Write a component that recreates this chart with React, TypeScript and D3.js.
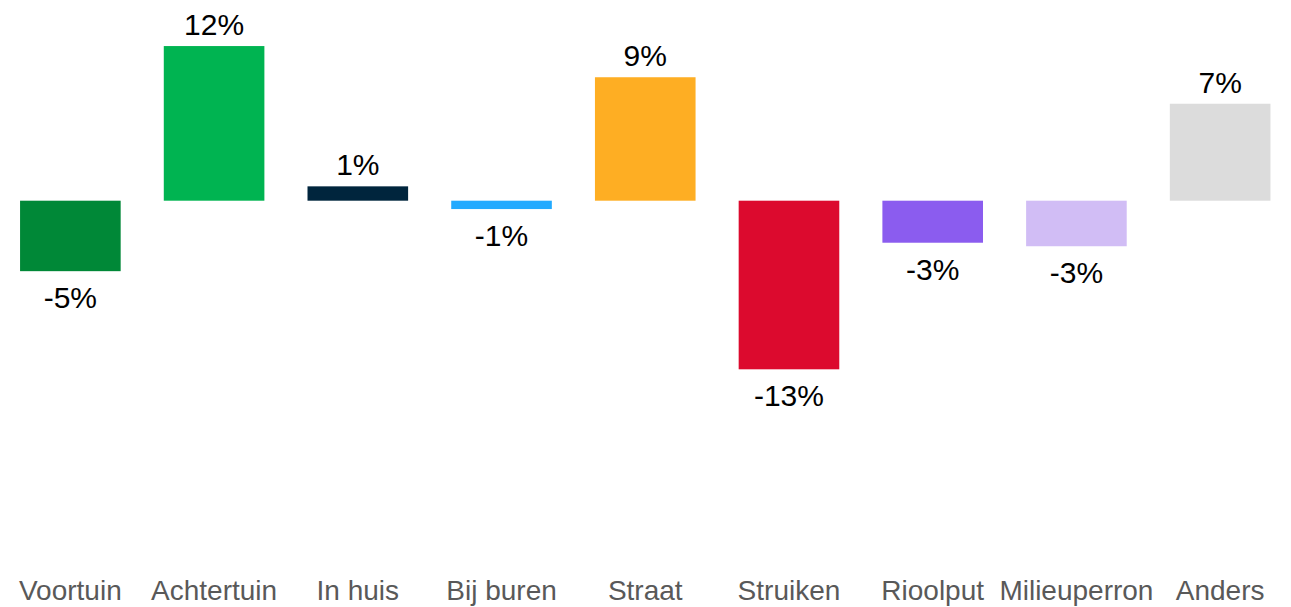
import React from "react";
import * as d3 from "d3";

const categories = ["Voortuin", "Achtertuin", "In huis", "Bij buren", "Straat", "Struiken", "Rioolput", "Milieuperron", "Anders"];
const values = [-5.4, 11.85, 1.1, -0.64, 9.46, -12.92, -3.22, -3.49, 7.43];
const colors = ["#008837", "#00B451", "#00253D", "#22AAFF", "#FEAE23", "#DC0A2E", "#8B5CEF", "#D1BDF5", "#DCDCDC"];

const W = 1291;
const H = 607;

export default function App() {
  const x = d3.scaleBand<string>().domain(categories).range([-1.5, 1292]).paddingInner(0.3).paddingOuter(0.15);
  const y = d3.scaleLinear().domain([-15, 15]).range([396.45, 4.95]);
  const fmt = (v: number) => `${Math.round(v)}%`;
  const font = "'Liberation Sans', Arial, sans-serif";
  return (
    <svg width={W} height={H} style={{ position: "absolute", left: 0, top: 0, background: "#fff" }}>
      {categories.map((c, i) => {
        const v = values[i];
        const x0 = x(c)!;
        const bw = x.bandwidth();
        const top = y(Math.max(0, v));
        const bot = y(Math.min(0, v));
        const cx = x0 + bw / 2;
        return (
          <g key={c}>
            <rect x={x0} y={top} width={bw} height={bot - top} fill={colors[i]} />
            <text
              x={cx}
              y={v >= 0 ? top - 11 : bot + 37}
              textAnchor="middle"
              fontFamily={font}
              fontSize={30}
              fill="#000"
            >
              {fmt(v)}
            </text>
            <text x={cx} y={600} textAnchor="middle" fontFamily={font} fontSize={28} fill="#595959">
              {c}
            </text>
          </g>
        );
      })}
    </svg>
  );
}
